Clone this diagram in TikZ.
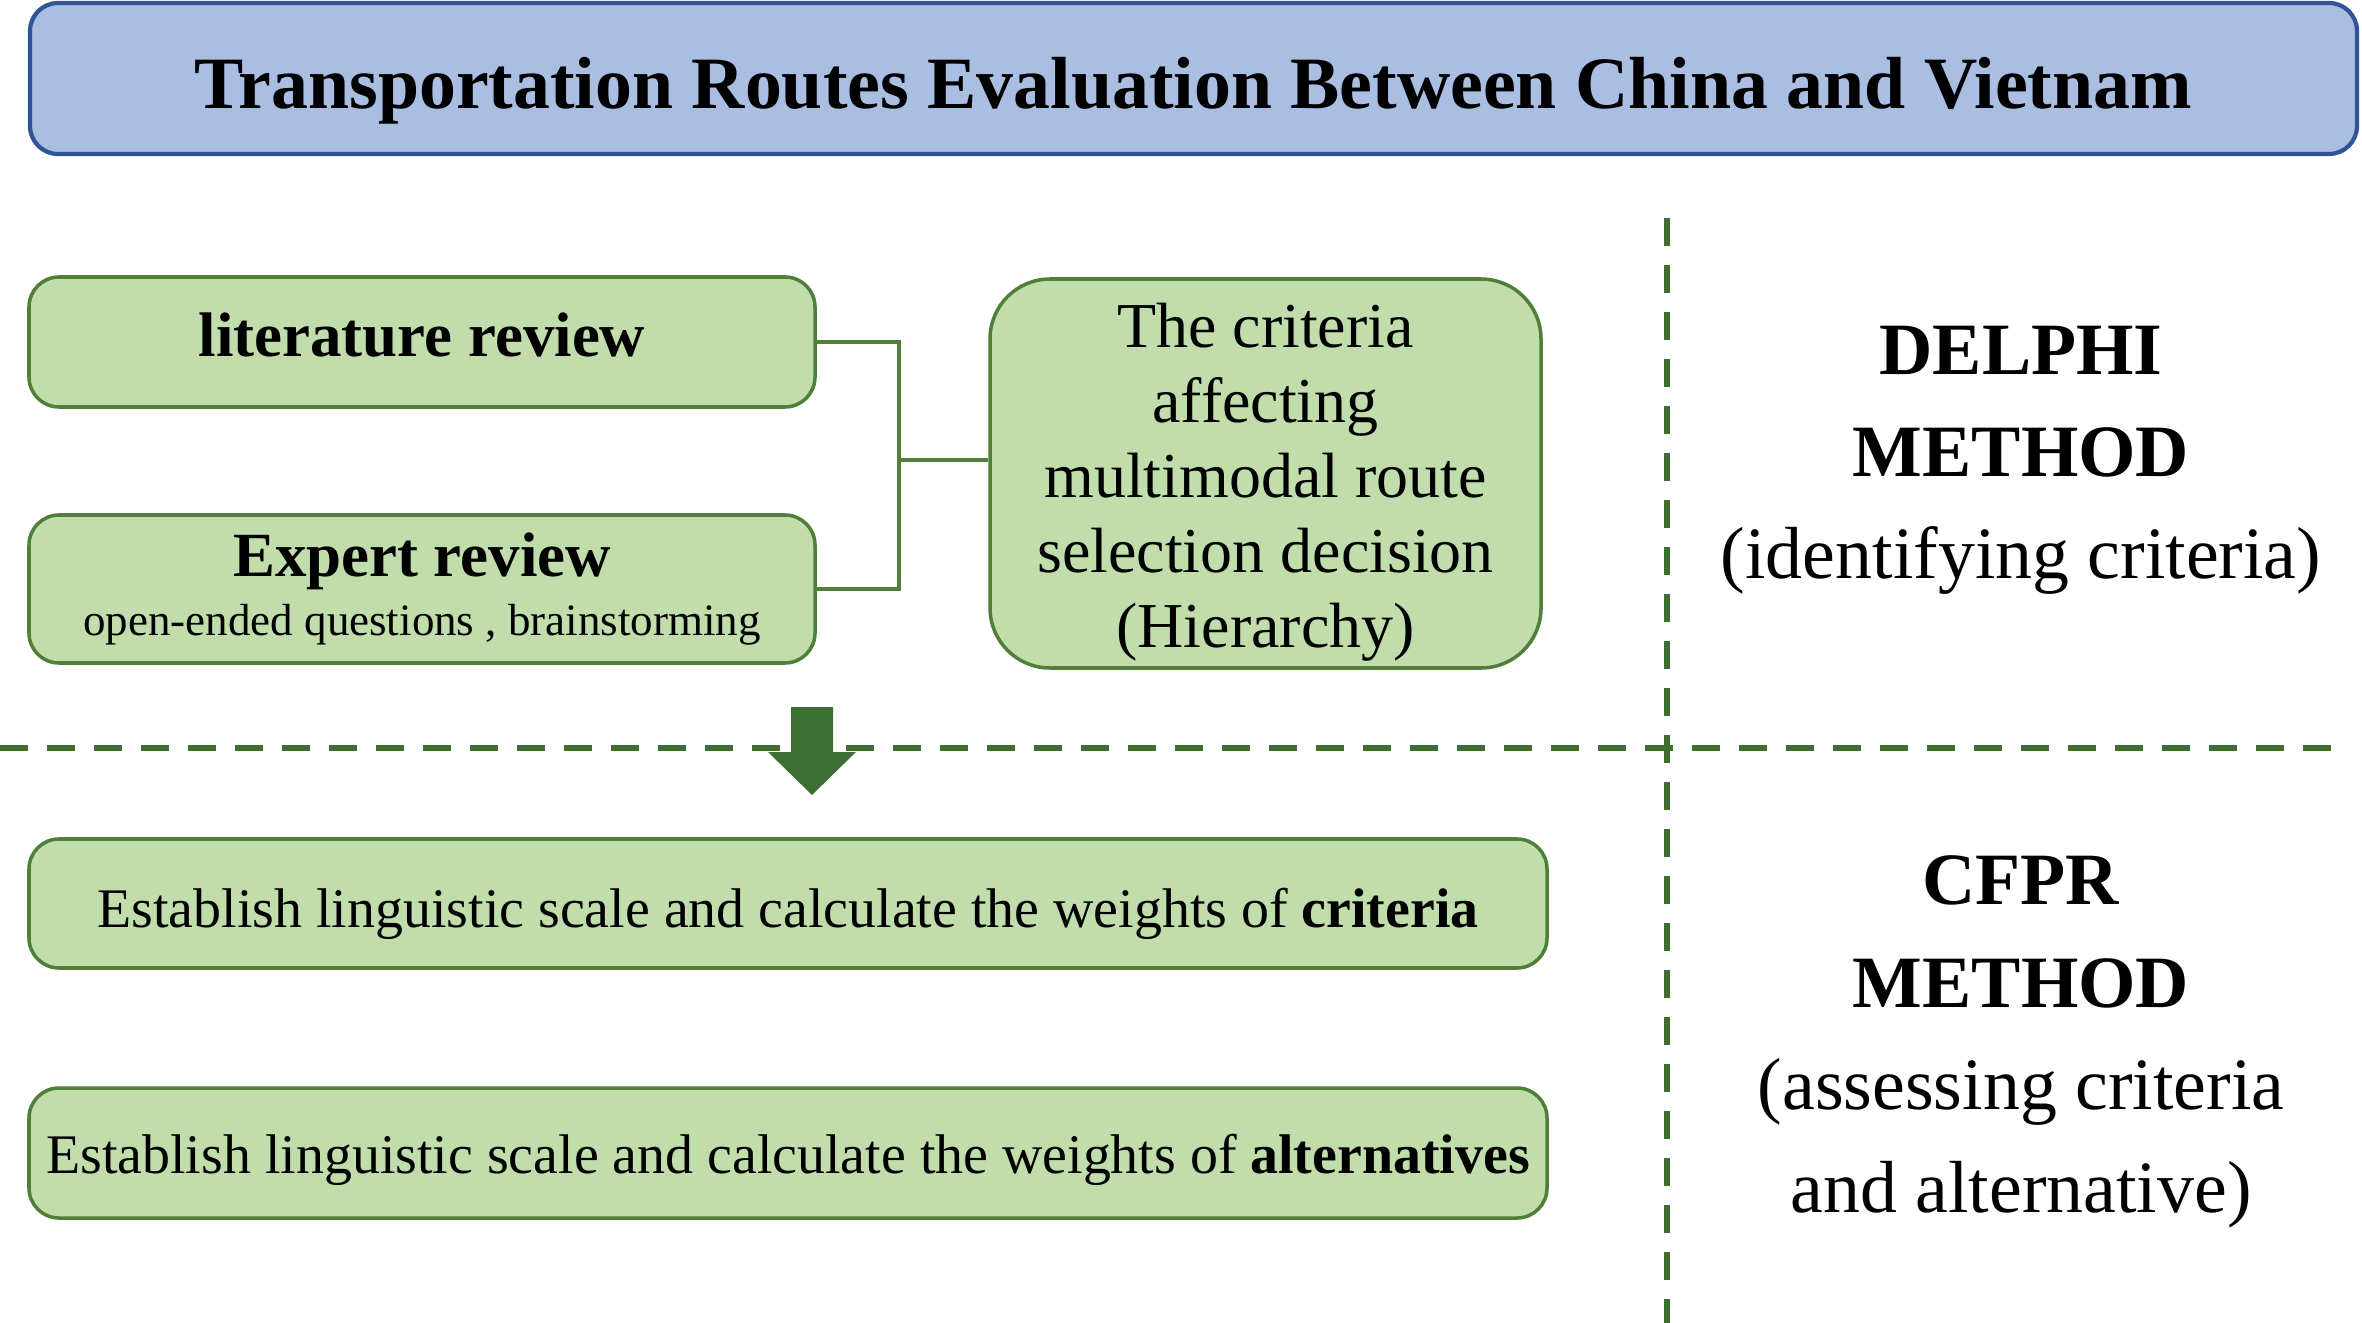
\documentclass[tikz,border=0pt]{standalone}
\usepackage{fontspec}
\setmainfont{Liberation Serif}
\usetikzlibrary{positioning}
\definecolor{TitleBlue}{HTML}{A9BEE1}
\definecolor{TitleEdge}{HTML}{2F5597}
\definecolor{BoxGreen}{HTML}{C0DDAB}
\definecolor{BoxEdge}{HTML}{4F7F38}
\definecolor{DarkGreen}{HTML}{3D7030}
\tikzset{
  greenbox/.style={draw=BoxEdge, fill=BoxGreen, line width=1pt,
    rounded corners=0.3cm, inner sep=0pt, align=center},
  link/.style={draw=BoxEdge, line width=1.1pt},
  divider/.style={draw=DarkGreen, line width=1.8pt,
    dash pattern=on 0.28cm off 0.19cm},
}

\begin{document}
\begin{tikzpicture}
  \useasboundingbox (0,0) rectangle (23.62,-13.23);

  \node[draw=TitleEdge, fill=TitleBlue, line width=1.2pt, rounded corners=0.28cm,
        minimum width=23.27cm, minimum height=1.51cm, inner sep=0pt,
        text height=0.61cm, text depth=0pt,
        font=\fontsize{21pt}{25pt}\selectfont\bfseries] (title) at (11.935,-0.785)
        {Transportation Routes Evaluation Between China and Vietnam};

  \draw[divider] (0,-7.48) -- (23.42,-7.48);
  \draw[divider] (16.67,-2.18) -- (16.67,-13.23);

  % identifying the criteria
  \node[greenbox, minimum width=7.86cm, minimum height=1.30cm,
        text height=0.30cm, text depth=0pt,
        font=\fontsize{17.9pt}{20pt}\selectfont\bfseries] (lit) at (4.22,-3.42)
        {literature review};
  \node[greenbox, minimum width=7.86cm, minimum height=1.48cm,
        font=\fontsize{12.8pt}{17pt}\selectfont] (expert) at (4.22,-5.89)
        {{\fontsize{17.9pt}{20pt}\selectfont\bfseries Expert review}\\
         open-ended questions , brainstorming};
  \node[greenbox, rounded corners=0.6cm, minimum width=5.51cm, minimum height=3.89cm,
        font=\fontsize{18.2pt}{21.3pt}\selectfont] (crit) at (12.655,-4.735)
        {\rule{0pt}{0.62cm}The criteria\\affecting\\multimodal route\\selection decision\\(Hierarchy)};

  \coordinate (jn) at (8.99,-4.60);
  \draw[link] (lit.east) -| (jn) |- (expert.east);
  \draw[link] (jn) -- (jn -| crit.west);

  \coordinate (arrtop) at (8.12,-7.07);
  \fill[DarkGreen] (arrtop) ++(-0.21,0) -- ++(0,-0.45) -- ++(-0.23,0)
    -- ++(0.44,-0.43) -- ++(0.44,0.43) -- ++(-0.23,0) -- ++(0,0.45) -- cycle;

  % weights
  \node[greenbox, minimum width=15.18cm, minimum height=1.29cm,
        text height=0.48cm, text depth=0pt,
        font=\fontsize{15.9pt}{19pt}\selectfont] (crw) at (7.88,-9.035)
        {Establish linguistic scale and calculate the weights of \textbf{criteria}};
  \node[greenbox, minimum width=15.18cm, minimum height=1.30cm,
        text height=0.40cm, text depth=0pt,
        font=\fontsize{15.9pt}{19pt}\selectfont] (alw) at (7.88,-11.53)
        {Establish linguistic scale and calculate the weights of \textbf{alternatives}};

  \node[align=center, font=\fontsize{21pt}{29pt}\selectfont] (delphi) at (20.21,-4.60)
        {\textbf{DELPHI}\\\textbf{METHOD}\\(identifying criteria)};
  \node[align=center, font=\fontsize{21pt}{29.2pt}\selectfont] (cfpr) at (20.21,-10.42)
        {\textbf{CFPR}\\\textbf{METHOD}\\(assessing criteria\\and alternative)};

\end{tikzpicture}
\end{document}
